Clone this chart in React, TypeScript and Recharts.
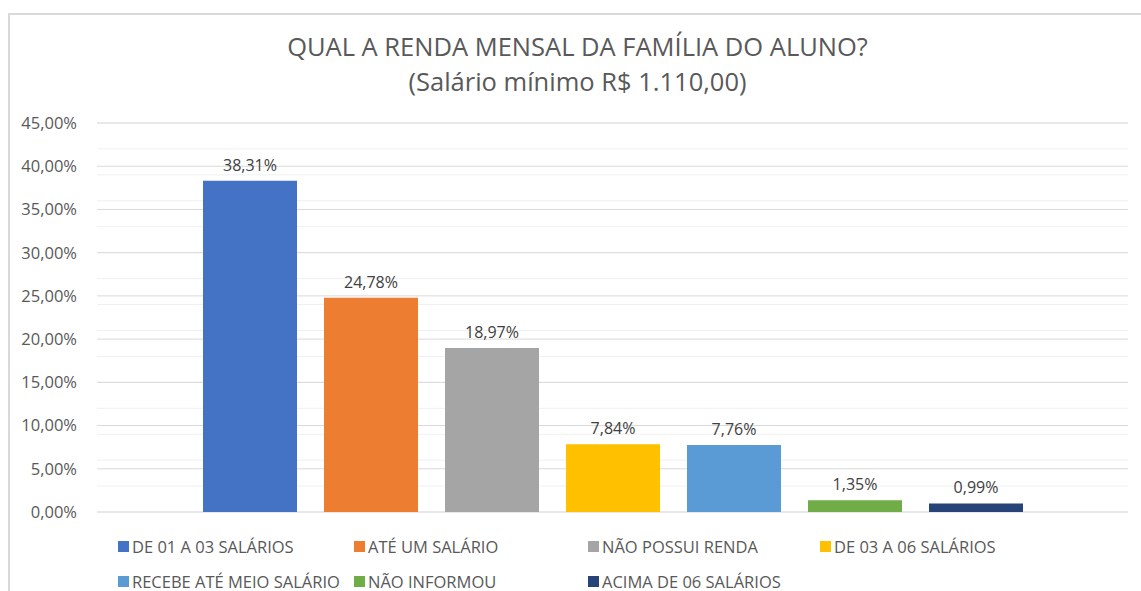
import { BarChart, Bar, XAxis, YAxis, CartesianGrid, Legend, LabelList } from 'recharts'

const seriesNames = [
  'DE 01 A 03 SALÁRIOS',
  'ATÉ UM SALÁRIO',
  'NÃO POSSUI RENDA',
  'DE 03 A 06 SALÁRIOS',
  'RECEBE ATÉ MEIO SALÁRIO',
  'NÃO INFORMOU',
  'ACIMA DE 06 SALÁRIOS',
]
const seriesValues = [38.31, 24.78, 18.97, 7.84, 7.76, 1.35, 0.99]
const seriesColors = ['#4472C4', '#ED7D31', '#A5A5A5', '#FFC000', '#5B9BD5', '#70AD47', '#264478']
const majorTicks = [0, 5, 10, 15, 20, 25, 30, 35, 40, 45]
const minorTicks = [
  0, 1, 2, 3, 4, 5, 6, 7, 8, 9, 10, 11, 12, 13, 14, 15, 16, 17, 18, 19, 20, 21, 22, 23, 24, 25, 26, 27, 28, 29, 30,
  31, 32, 33, 34, 35, 36, 37, 38, 39, 40, 41, 42, 43, 44, 45,
]

const row: Record<string, string | number> = { name: 'renda' }
seriesNames.forEach((n, i) => {
  row[n] = seriesValues[i]
})
const data = [row]

const pct = (v: number) => v.toFixed(2).replace('.', ',') + '%'
const font = '"Open Sans", sans-serif'

const LegendBox = () => (
  <div
    style={{
      height: 60,
      display: 'grid',
      gridTemplateColumns: '236px 234px 232px 232px',
      rowGap: 10,
      paddingLeft: 118,
      fontFamily: font,
      fontSize: 16.5,
      color: '#595959',
      textAlign: 'left',
    }}
  >
    {seriesNames.map((n, i) => (
      <div key={n} style={{ display: 'flex', alignItems: 'center', whiteSpace: 'nowrap', height: 22 }}>
        <span style={{ width: 11, height: 11, background: seriesColors[i], marginRight: 3, display: 'inline-block' }} />
        {n}
      </div>
    ))}
  </div>
)

export default function App() {
  return (
    <div style={{ position: 'absolute', left: 0, top: 0, width: 1141, height: 591, background: '#fff', overflow: 'hidden' }}>
      <div
        style={{
          position: 'absolute',
          left: 8,
          top: 13,
          width: 1160,
          height: 600,
          borderLeft: '2px solid #d9d9d9',
          borderTop: '2px solid #d9d9d9',
        }}
      />
      <div
        style={{
          position: 'absolute',
          left: 0,
          top: 29,
          width: 1155,
          textAlign: 'center',
          fontFamily: font,
          fontSize: 25.5,
          lineHeight: '35px',
          color: '#595959',
        }}
      >
        QUAL A RENDA MENSAL DA FAMÍLIA DO ALUNO?
        <br />
        (Salário mínimo R$ 1.110,00)
      </div>
      <BarChart
        width={1141}
        height={591}
        data={data}
        margin={{ top: 123, right: 13, bottom: 19, left: 0 }}
        barGap={27}
        barSize={94}
        style={{ position: 'absolute', left: 0, top: 0 }}
      >
        <CartesianGrid vertical={false} stroke="#f0f0f0" horizontalValues={minorTicks} />
        <CartesianGrid vertical={false} stroke="#d9d9d9" />
        <XAxis dataKey="name" hide />
        <YAxis
          width={97}
          domain={[0, 45]}
          ticks={majorTicks}
          tickFormatter={pct}
          axisLine={false}
          tickLine={false}
          tickSize={0}
          tickMargin={20}
          tick={{ fill: '#595959', fontSize: 16.5, fontFamily: font }}
        />
        <Legend
          verticalAlign="bottom"
          content={() => <LegendBox />}
          wrapperStyle={{ top: 535, bottom: 'auto', left: 0, width: 1141 }}
        />
        {seriesNames.map((n, i) => (
          <Bar key={n} dataKey={n} fill={seriesColors[i]} isAnimationActive={false}>
            <LabelList
              dataKey={n}
              position="top"
              offset={10}
              formatter={(v: any) => pct(Number(v))}
              style={{ fill: '#404040', fontSize: 16, fontFamily: font }}
            />
          </Bar>
        ))}
      </BarChart>
    </div>
  )
}
